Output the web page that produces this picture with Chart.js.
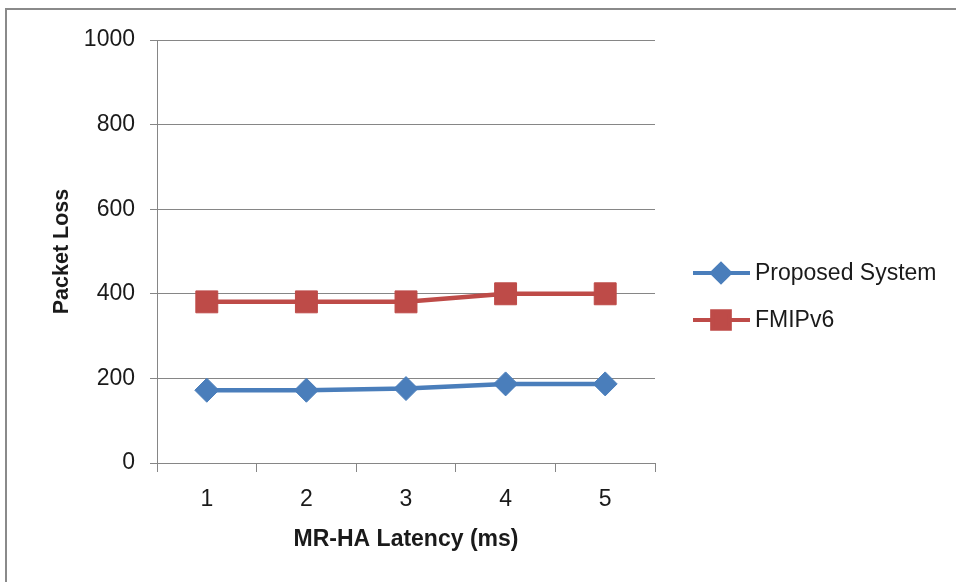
<!DOCTYPE html>
<html>
<head>
<meta charset="utf-8">
<script src="https://cdn.jsdelivr.net/npm/chart.js@4.4.1/dist/chart.umd.min.js"></script>
<style>
  html, body { margin: 0; padding: 0; background: #fff; overflow: hidden; }
  #frame { position: absolute; left: 5px; top: 8px; width: 1200px; height: 800px; border: 2px solid #8a8a8a; }
  #wrap { position: absolute; left: 0; top: 0; width: 956px; height: 582px; }
</style>
</head>
<body>
<div id="frame"></div>
<div id="wrap"><canvas id="myChart" width="956" height="582"></canvas></div>
<script>
var latencies = ['1', '2', '3', '4', '5'];
var proposedSystem = [172, 172, 176, 187, 187];
var fmipv6 = [381, 381, 381, 400, 400];
var yTicks = [0, 200, 400, 600, 800, 1000];

var gridColor = '#868686';
var textColor = '#1a1a1a';

// Excel style legend on the right: line with the marker in the middle
var sideLegend = {
    id: 'sideLegend',
    afterDraw: function (chart) {
        var ctx = chart.ctx;
        var rows = [273, 320];
        chart.data.datasets.forEach(function (ds, i) {
            var y = rows[i];
            ctx.save();
            ctx.strokeStyle = ds.borderColor;
            ctx.lineWidth = 4;
            ctx.beginPath();
            ctx.moveTo(693, y);
            ctx.lineTo(750, y);
            ctx.stroke();
            ctx.fillStyle = ds.backgroundColor;
            ctx.strokeStyle = ds.backgroundColor;
            Chart.helpers.drawPoint(ctx, {
                pointStyle: ds.pointStyle,
                radius: ds.pointStyle === 'rect' ? 12.5 : 9,
                rotation: 0,
                borderWidth: 1
            }, 721, y);
            ctx.fillStyle = textColor;
            ctx.font = '23px "Liberation Sans"';
            ctx.textBaseline = 'middle';
            ctx.textAlign = 'left';
            ctx.fillText(ds.label, 755, y + 1);
            ctx.restore();
        });
    }
};

var testChart = new Chart('myChart', {
    type: 'line',
    data: {
        labels: latencies,
        datasets: [{
            label: 'Proposed System',
            data: proposedSystem,
            borderColor: '#4a7ebb',
            backgroundColor: '#4a7ebb',
            pointBackgroundColor: '#4a7ebb',
            pointBorderColor: '#4a7ebb',
            pointStyle: 'rectRot',
            pointRadius: 12,
            pointBorderWidth: 1,
            borderWidth: 4.5,
            tension: 0
        }, {
            label: 'FMIPv6',
            data: fmipv6,
            borderColor: '#be4b48',
            backgroundColor: '#be4b48',
            pointBackgroundColor: '#be4b48',
            pointBorderColor: '#be4b48',
            pointStyle: 'rect',
            pointRadius: 15.5,
            pointBorderWidth: 1,
            borderWidth: 4.5,
            tension: 0
        }]
    },
    options: {
        responsive: false,
        animation: false,
        layout: {
            padding: { left: 0, right: 301, top: 40, bottom: 0 }
        },
        plugins: {
            legend: { display: false },
            tooltip: { enabled: false }
        },
        scales: {
            x: {
                offset: true,
                afterFit: function (scale) { scale.height = 119; },
                grid: {
                    drawOnChartArea: false,
                    drawTicks: true,
                    tickLength: 9,
                    color: gridColor,
                    offset: true
                },
                border: { display: true, color: gridColor, width: 1 },
                ticks: {
                    color: textColor,
                    padding: 14,
                    font: { family: '"Liberation Sans"', size: 23 }
                },
                title: {
                    display: true,
                    text: 'MR-HA Latency (ms)',
                    color: textColor,
                    padding: { top: 0, bottom: 29 },
                    font: { family: '"Liberation Sans"', size: 23, weight: 'bold' }
                }
            },
            y: {
                min: 0,
                max: 1000,
                afterFit: function (scale) { scale.width = 157; },
                afterBuildTicks: function (scale) {
                    scale.ticks = yTicks.map(function (v) { return { value: v }; });
                },
                grid: {
                    color: gridColor,
                    drawTicks: true,
                    tickLength: 7
                },
                border: { display: true, color: gridColor, width: 1 },
                ticks: {
                    color: textColor,
                    padding: 15,
                    callback: function (v) { return String(v); },
                    font: { family: '"Liberation Sans"', size: 23 }
                },
                title: {
                    display: true,
                    text: 'Packet Loss',
                    color: textColor,
                    padding: { top: 49, bottom: 0 },
                    font: { family: '"Liberation Sans"', size: 21.5, weight: 'bold' }
                }
            }
        }
    },
    plugins: [sideLegend]
});
</script>
</body>
</html>
